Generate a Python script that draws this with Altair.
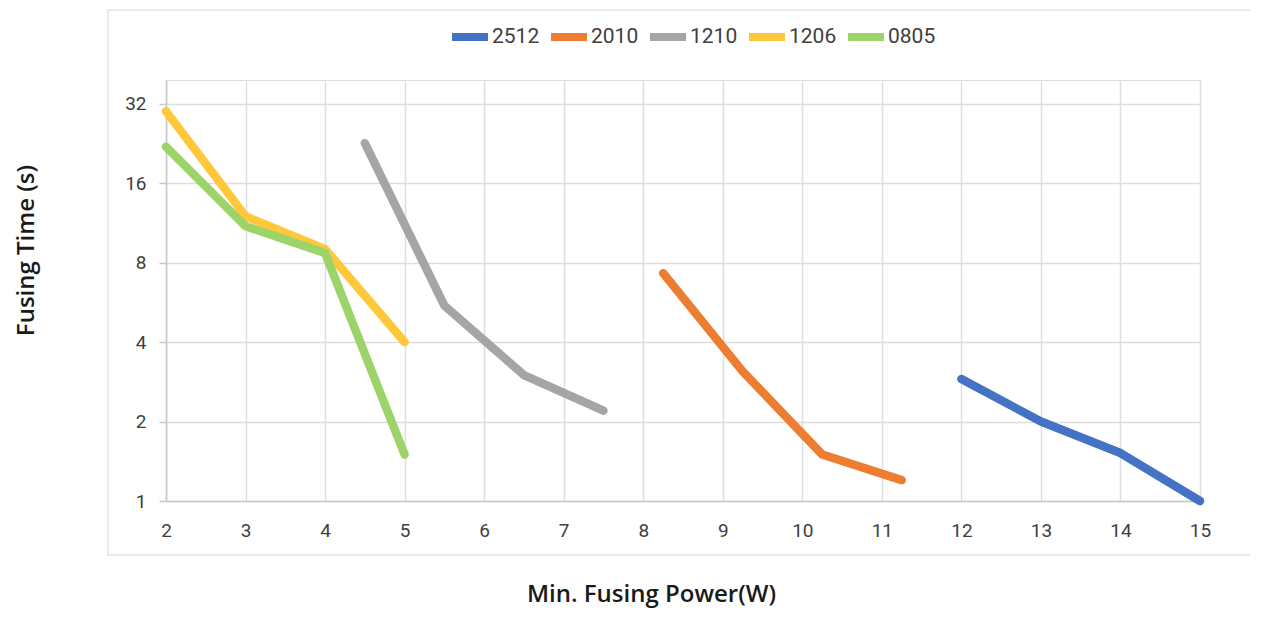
import altair as alt
import pandas as pd

series_names = ["2512", "2010", "1210", "1206", "0805"]
series_colors = ["#4472C4", "#ED7D31", "#A5A5A5", "#FFC83A", "#9DD46A"]

x_2512 = [12, 13, 14, 15]
y_2512 = [2.9, 2.0, 1.52, 1.0]
x_2010 = [8.25, 9.25, 10.25, 11.25]
y_2010 = [7.3, 3.1, 1.5, 1.2]
x_1210 = [4.5, 5.5, 6.5, 7.5]
y_1210 = [22.7, 5.5, 3.0, 2.2]
x_1206 = [2, 3, 4, 5]
y_1206 = [30.0, 12.0, 9.0, 4.0]
x_0805 = [2, 3, 4, 5]
y_0805 = [22.0, 11.0, 8.7, 1.5]

x_ticks = list(range(2, 16))
y_ticks = [1, 2, 4, 8, 16, 32]

rows = []
for name, xs, ys in [("2512", x_2512, y_2512), ("2010", x_2010, y_2010),
                     ("1210", x_1210, y_1210), ("1206", x_1206, y_1206),
                     ("0805", x_0805, y_0805)]:
    for i, (xv, yv) in enumerate(zip(xs, ys)):
        rows.append({"series": name, "power": xv, "time": yv, "idx": i})
df = pd.DataFrame(rows)

frame = alt.Chart(pd.DataFrame({"a": [0]})).mark_rect(
    fill=None, stroke="#e3e3e3", strokeWidth=1.5
).encode(x=alt.value(-58), x2=alt.value(1095), y=alt.value(-70), y2=alt.value(475))

lines = alt.Chart(df).mark_line(strokeWidth=8.5, strokeCap="round", strokeJoin="round").encode(
    x=alt.X("power:Q",
            scale=alt.Scale(domain=[2, 15], nice=False, zero=False),
            axis=alt.Axis(values=x_ticks, title="Min. Fusing Power(W)", ticks=False,
                          labelPadding=20, labelFontSize=19, labelFont="Roboto",
                          labelFlush=False,
                          labelColor="#404040", domainColor="#c8c8c8", domainWidth=1.5,
                          gridColor="#dedede", gridWidth=1.5,
                          titleFont="Open Sans", titleFontSize=24, titleFontWeight=600,
                          titleColor="#1a1a1a", titleX=485, titleY=100,
                          titleBaseline="alphabetic", titleAlign="center")),
    y=alt.Y("time:Q",
            scale=alt.Scale(type="log", base=2, domain=[1, 39.4], nice=False),
            axis=alt.Axis(values=y_ticks, title="Fusing Time (s)", format="d",
                          tickSize=7, tickColor="#c8c8c8", tickWidth=1.5,
                          labelPadding=13, labelFontSize=19, labelFont="Roboto",
                          labelFlush=False,
                          labelColor="#404040", domainColor="#c8c8c8", domainWidth=1.5,
                          gridColor="#dedede", gridWidth=1.5,
                          titleFont="Open Sans", titleFontSize=24, titleFontWeight=600,
                          titleColor="#1a1a1a", titleX=-133, titleY=170,
                          titleAngle=270, titleBaseline="alphabetic", titleAlign="center")),
    color=alt.Color("series:N",
                    scale=alt.Scale(domain=series_names, range=series_colors),
                    sort=series_names,
                    legend=alt.Legend(title=None, orient="none", direction="horizontal",
                                      legendX=282, legendY=-65, symbolType="stroke",
                                      symbolSize=1296, symbolStrokeWidth=8,
                                      labelFont="Roboto", labelFontSize=21,
                                      labelColor="#404040", labelOffset=0,
                                      columnPadding=-5, padding=0)),
    order="idx:Q",
)

chart = alt.layer(frame, lines).properties(
    width=1034, height=421,
    autosize=alt.AutoSizeParams(type="none"),
    padding={"left": 158, "top": 72, "right": 50, "bottom": 108},
).configure_view(stroke=None).configure(background="white")

chart.save("out.html", embed_options={"renderer": "svg", "actions": False})
